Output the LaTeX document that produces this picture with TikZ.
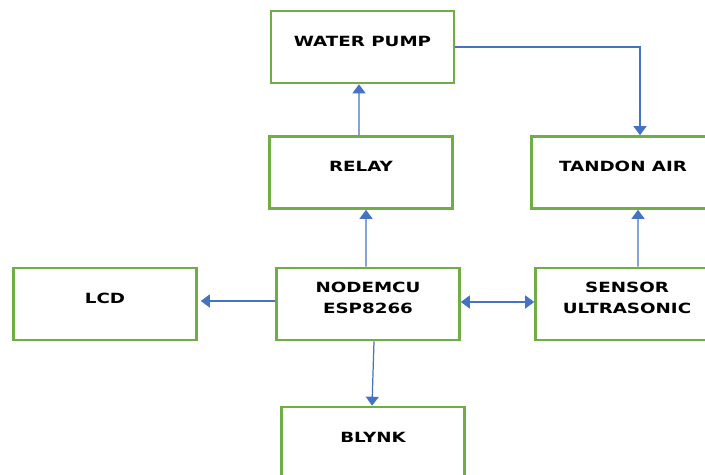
\documentclass[tikz,border=0pt]{standalone}
\usepackage{fontspec}
\newfontfamily\blokfont[FakeStretch=1.3]{DejaVu Sans}
\usetikzlibrary{arrows.meta}
\definecolor{boxgreen}{HTML}{70AD47}
\definecolor{arrblue}{HTML}{4472C4}
\begin{document}
\begin{tikzpicture}[x=0.02cm, y=-0.02cm,
  blok/.style = {draw=boxgreen, line width=1.5pt, fill=white, minimum width=3.66cm, minimum height=1.44cm},
  txt/.style = {font=\blokfont\bfseries\fontsize{8}{12.2}\selectfont, align=center, yshift=0.12cm},
  arr/.style = {draw=arrblue, line width=0.7pt, -{Triangle[length=0.18cm, width=0.26cm]}}]
\useasboundingbox (0,0) rectangle (705,475);
%boxes
\node[blok, label={[txt]center:WATER PUMP}] (pump) at (362.5,47) {};
\node[blok, label={[txt]center:RELAY}] (relay) at (361,172.5) {};
\node[blok, label={[txt]center:TANDON AIR}] (tandon) at (623,172.5) {};
\node[blok, label={[txt]center:LCD}] (lcd) at (105,304) {};
\node[blok, label={[txt]center:NODEMCU\\ESP8266}] (mcu) at (368,304) {};
\node[blok, label={[txt]center:SENSOR\\ULTRASONIC}] (sensor) at (627,304) {};
\node[blok, label={[txt]center:BLYNK}] (blynk) at (373,443) {};
%arrows
\draw[arr] ([xshift=-0.04cm]relay.north) -- ([xshift=-0.07cm]pump.south);
\draw[arr] (pump.east) -| ([xshift=0.34cm]tandon.north);
\draw[arr] ([xshift=0.22cm]sensor.north) -- ([xshift=0.3cm]tandon.south);
\draw[arr] ([xshift=-0.04cm]mcu.north) -- ([xshift=0.1cm]relay.south);
\draw[arr, shorten >=0.06cm] ([yshift=0.06cm]mcu.west) -- ([yshift=0.06cm]lcd.east);
\draw[arr, {Triangle[length=0.18cm, width=0.26cm]}-{Triangle[length=0.18cm, width=0.26cm]}] ([yshift=0.04cm]mcu.east) -- ([yshift=0.04cm]sensor.west);
\draw[arr] ([xshift=0.12cm]mcu.south) -- ([xshift=-0.02cm]blynk.north);
\end{tikzpicture}
\end{document}
